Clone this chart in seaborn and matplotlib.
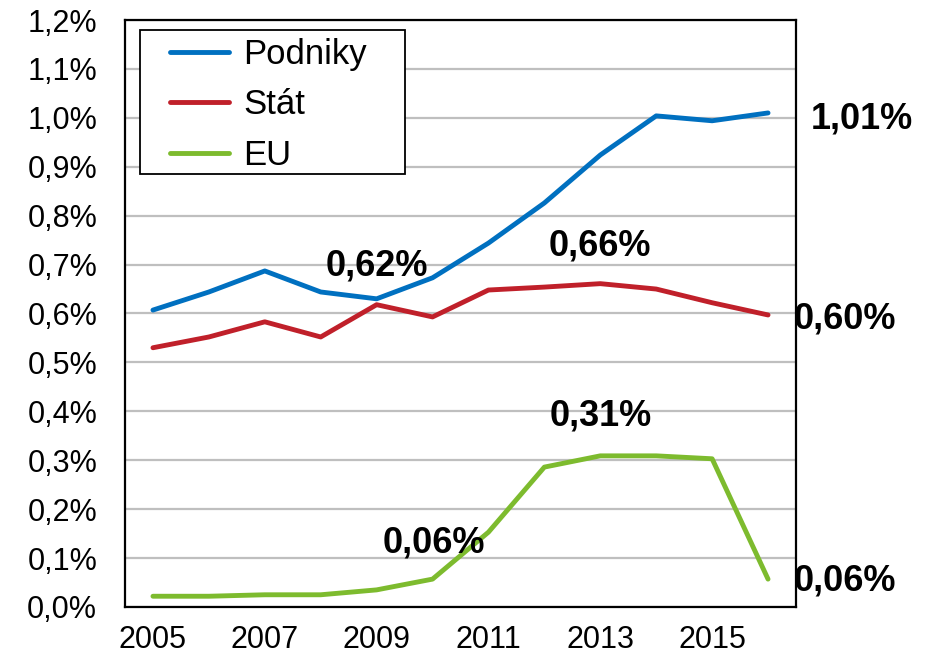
import pandas as pd
import matplotlib.pyplot as plt
import matplotlib.ticker as mticker
from matplotlib.patches import Rectangle
import seaborn as sns

# data (% of GDP)
years = ['2005', '2006', '2007', '2008', '2009', '2010', '2011', '2012', '2013', '2014', '2015', '2016']
podniky = [0.607, 0.644, 0.687, 0.644, 0.630, 0.673, 0.744, 0.826, 0.924, 1.004, 0.994, 1.010]
stat = [0.530, 0.552, 0.583, 0.552, 0.618, 0.593, 0.648, 0.654, 0.661, 0.650, 0.622, 0.597]
eu = [0.022, 0.022, 0.025, 0.025, 0.035, 0.057, 0.153, 0.286, 0.309, 0.309, 0.303, 0.057]
series_names = ['Podniky', 'Stát', 'EU']
colors = ['#0070C0', '#C0202A', '#7DBB2E']

# value labels: (text, year index, value)
labels = [
    ('1,01%', 11, 1.010),
    ('0,60%', 11, 0.597),
    ('0,06%', 11, 0.057),
    ('0,62%', 4, 0.618),
    ('0,66%', 8, 0.661),
    ('0,31%', 8, 0.309),
    ('0,06%', 5, 0.057),
]
# where each label sits relative to its point (category units, % units)
label_offsets = [(1.68, -0.012), (1.38, -0.008), (1.38, -0.004),
                 (0.0, 0.080), (0.0, 0.078), (0.0, 0.082), (0.03, 0.074)]

df = pd.DataFrame({
    'rok': years * 3,
    'hodnota': podniky + stat + eu,
    'zdroj': [s for s in series_names for _ in years],
})

sns.set_style('white')
plt.rcParams['font.family'] = ['Liberation Sans', 'DejaVu Sans']
plt.rcParams['text.color'] = 'black'

fig = plt.figure(figsize=(9.34, 6.59), dpi=100)
ax = fig.add_axes([125 / 934, 1 - 607 / 659, (796 - 125) / 934, (607 - 20) / 659])

sns.lineplot(data=df, x='rok', y='hodnota', hue='zdroj', hue_order=series_names,
             palette=colors, linewidth=3.5, ax=ax, sort=False, legend=False)

ax.set_xlim(-0.5, len(years) - 0.5)
ax.set_ylim(0, 1.2)
ax.set_xlabel('')
ax.set_ylabel('')

# y axis
ax.yaxis.set_major_locator(mticker.MultipleLocator(0.1))
ax.yaxis.set_major_formatter(mticker.FuncFormatter(lambda v, p: f'{v:.1f}%'.replace('.', ',')))
ax.grid(axis='y', color='#BFBFBF', linewidth=1.6)
ax.set_axisbelow(True)

# x axis: labels every other year, tick marks on category boundaries
ax.set_xticks(range(0, len(years), 2))
ax.set_xticklabels(years[::2])
ax.set_xticks([i - 0.5 for i in range(len(years) + 1)], minor=True)
ax.tick_params(axis='x', which='major', length=0, pad=13, labelsize=22)
ax.tick_params(axis='x', which='minor', length=6, width=1.5, color='black', direction='out')
ax.tick_params(axis='y', which='major', length=6, width=1.5, color='black', direction='out',
               labelsize=22, pad=14)
ax.tick_params(axis='both', labelcolor='black')

for s in ax.spines.values():
    s.set_visible(True)
    s.set_color('black')
    s.set_linewidth(1.6)

for (txt, i, v), (dx, dy) in zip(labels, label_offsets):
    ax.text(i + dx, v + dy, txt, fontsize=26, fontweight='bold', ha='center', va='center',
            color='black', clip_on=False)

# legend
handles = ax.get_lines()[:3]
leg = fig.legend(handles, series_names, loc='upper left', bbox_to_anchor=(170 / 934, 1 - 38 / 659),
                 fontsize=25, frameon=False, borderpad=0, labelspacing=0.5,
                 handlelength=1.7, handletextpad=0.4, borderaxespad=0, labelcolor='black')
for line in leg.get_lines():
    line.set_linewidth(3.5)
fig.add_artist(Rectangle((140 / 934, 1 - 174 / 659), (405 - 140) / 934, (174 - 30) / 659,
                         transform=fig.transFigure, facecolor='white', edgecolor='black',
                         linewidth=1.3, zorder=2.5))
leg.set_zorder(3)

fig.savefig('out.png', dpi=100)
